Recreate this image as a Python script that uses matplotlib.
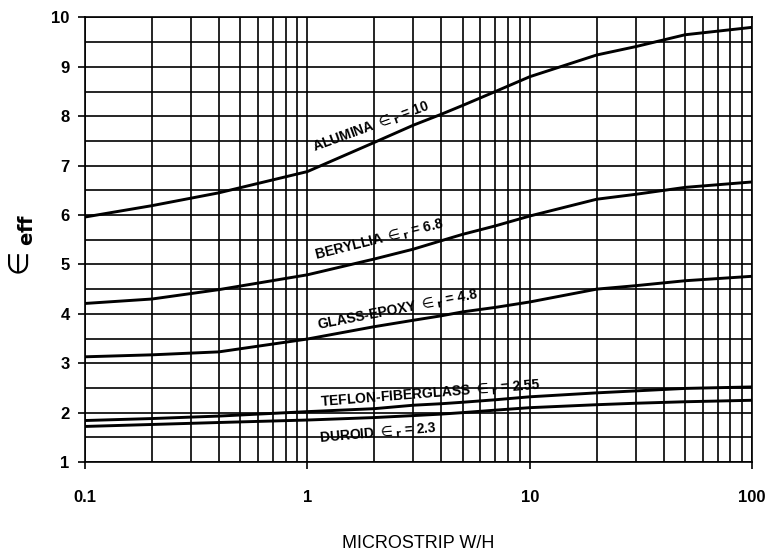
import numpy as np
import matplotlib
matplotlib.use('Agg')
import matplotlib.pyplot as plt
from matplotlib.ticker import FixedLocator, NullFormatter

plt.rcParams['font.family'] = ['Liberation Sans', 'DejaVu Sans']
plt.rcParams['mathtext.fontset'] = 'dejavusans'

# W/H values where the curves were read
wh = [0.1, 0.2, 0.4, 1, 2, 3, 4, 5, 7, 10, 20, 30, 50, 100]

# effective dielectric constant for each substrate
alumina = [5.96, 6.19, 6.45, 6.88, 7.47, 7.82, 8.04, 8.22, 8.50, 8.80, 9.24, 9.41, 9.65, 9.80]
beryllia = [4.21, 4.30, 4.49, 4.79, 5.11, 5.31, 5.48, 5.61, 5.78, 5.98, 6.32, 6.42, 6.56, 6.67]
glass_epoxy = [3.13, 3.17, 3.23, 3.49, 3.74, 3.87, 3.96, 4.04, 4.13, 4.24, 4.50, 4.57, 4.67, 4.76]
teflon = [1.84, 1.88, 1.93, 2.02, 2.08, 2.15, 2.18, 2.21, 2.26, 2.32, 2.40, 2.44, 2.49, 2.52]
duroid = [1.72, 1.76, 1.80, 1.85, 1.90, 1.94, 1.97, 2.00, 2.05, 2.10, 2.16, 2.19, 2.22, 2.25]

labels = [r'ALUMINA ${\in}_\mathbf{r}$ = 10',
          r'BERYLLIA ${\in}_\mathbf{r}$ = 6.8',
          r'GLASS-EPOXY ${\in}_\mathbf{r}$ = 4.8',
          r'TEFLON-FIBERGLASS ${\in}_\mathbf{r}$ = 2.55',
          r'DUROID ${\in}_\mathbf{r}$ = 2.3']
label_x = [1.94, 2.12, 2.54, 3.58, 2.09]
label_y = [7.77, 5.50, 4.08, 2.37, 1.58]
label_rot = [20, 14, 11, 4.5, 5]

fig = plt.figure(figsize=(7.68, 5.51), dpi=100)
ax = fig.add_axes([0.1107, 0.1615, 0.8685, 0.8068])

for series in [alumina, beryllia, glass_epoxy, teflon, duroid]:
    ax.plot(wh, series, color='black', lw=2.1, zorder=3)

for txt, x, y, r in zip(labels, label_x, label_y, label_rot):
    ax.text(x, y, txt, rotation=r, ha='center', va='center',
            rotation_mode='anchor', fontsize=10, fontweight='bold', zorder=4)

ax.set_xscale('log')
ax.set_xlim(0.1, 100)
ax.set_ylim(1, 10)

ax.xaxis.set_major_locator(FixedLocator([0.1, 1, 10, 100]))
ax.xaxis.set_minor_locator(FixedLocator([m * d for d in [0.1, 1, 10] for m in range(2, 10)]))
ax.xaxis.set_minor_formatter(NullFormatter())
ax.set_xticklabels(['0.1', '1', '10', '100'])
ax.yaxis.set_major_locator(FixedLocator(range(1, 11)))
ax.yaxis.set_minor_locator(FixedLocator(np.arange(1.5, 10, 1.0)))

ax.grid(which='both', color='black', lw=1.2)
ax.tick_params(axis='x', which='major', direction='out', length=5, width=1.2,
               pad=15, labelsize=12)
ax.tick_params(axis='y', which='major', direction='out', length=5, width=1.2,
               pad=6, labelsize=12)
ax.tick_params(which='minor', length=0)
for lab in ax.get_xticklabels() + ax.get_yticklabels():
    lab.set_fontweight('bold')
for sp in ax.spines.values():
    sp.set_linewidth(1.2)

ax.set_xlabel('MICROSTRIP W/H', fontsize=13, labelpad=22)
fig.text(0.028, 0.552, r'${\in}_{\mathbf{eff}}$', rotation=90,
         fontsize=20, ha='center', va='center')

fig.savefig('out.png', dpi=100)
